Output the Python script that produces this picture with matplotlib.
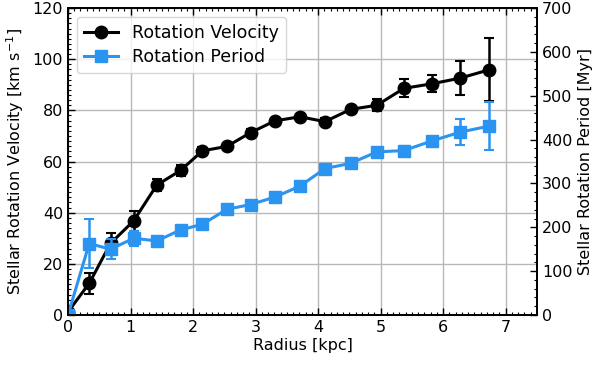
import matplotlib
matplotlib.use("Agg")
import matplotlib.pyplot as plt
from matplotlib.lines import Line2D
from matplotlib.ticker import MultipleLocator

# Radial profile data
radius = [0.0, 0.34, 0.68, 1.05, 1.42, 1.80, 2.15, 2.54, 2.92, 3.31, 3.71, 4.11, 4.52, 4.94, 5.37, 5.82, 6.27, 6.74]
velocity = [1.2, 12.4, 28.0, 36.8, 50.8, 56.5, 64.2, 65.9, 71.3, 75.9, 77.5, 75.6, 80.4, 82.0, 88.6, 90.4, 92.6, 95.9]
velocity_err = [0.5, 4.2, 4.0, 4.0, 2.5, 2.0, 1.5, 1.5, 1.5, 1.2, 1.2, 1.5, 1.5, 2.3, 3.5, 3.3, 6.6, 12.4]
period = [0.0, 163.0, 150.0, 175.0, 169.0, 194.0, 207.0, 241.0, 252.0, 269.0, 294.0, 334.0, 346.0, 372.0, 375.0, 397.0, 417.0, 431.0]
period_err = [0.0, 56.0, 23.0, 17.0, 6.0, 6.0, 5.0, 5.0, 5.0, 5.0, 5.0, 6.0, 6.0, 8.0, 10.0, 10.0, 30.0, 55.0]

plt.rcParams["font.family"] = ["DejaVu Sans"]
plt.rcParams["font.size"] = 11.5

fig = plt.figure(figsize=(6.0, 3.66), dpi=100)
ax = fig.add_axes([0.1133, 0.1393, 0.7817, 0.8387])
ax2 = ax.twinx()

black = "black"
blue = "#2b93f0"
style = dict(markersize=9, linewidth=2.2, elinewidth=1.8, capsize=3.5, capthick=1.5)

ax.errorbar(radius, velocity, yerr=velocity_err, color=black, marker="o", **style)
ax2.errorbar(radius, period, yerr=period_err, color=blue, marker="s", **style)

ax.set_xlim(0, 7.5)
ax.set_ylim(0, 120)
ax2.set_ylim(0, 700)

ax.xaxis.set_major_locator(MultipleLocator(1))
ax.xaxis.set_minor_locator(MultipleLocator(0.1))
ax.yaxis.set_major_locator(MultipleLocator(20))
ax.yaxis.set_minor_locator(MultipleLocator(2))
ax2.yaxis.set_major_locator(MultipleLocator(100))
ax2.yaxis.set_minor_locator(MultipleLocator(20))

ax.tick_params(which="both", direction="in", top=True, right=False)
ax.tick_params(which="major", length=5, width=1)
ax.tick_params(which="minor", length=2.5, width=0.8)
ax2.tick_params(which="both", direction="in")
ax2.tick_params(which="major", length=5, width=1)
ax2.tick_params(which="minor", length=2.5, width=0.8)

ax.grid(True, which="major", color="#b8b8b8", linewidth=1.0)
ax.set_axisbelow(True)

for a in (ax, ax2):
    for s in a.spines.values():
        s.set_linewidth(1.3)

ax.set_xlabel("Radius [kpc]", labelpad=2)
ax.set_ylabel("Stellar Rotation Velocity [km s$^{-1}$]", labelpad=5)
ax2.set_ylabel("Stellar Rotation Period [Myr]", labelpad=4)

handles = [
    Line2D([], [], color=black, marker="o", markersize=9, linewidth=2.2),
    Line2D([], [], color=blue, marker="s", markersize=9, linewidth=2.2),
]
ax2.legend(handles, ["Rotation Velocity", "Rotation Period"], loc="upper left",
           fontsize=12.5, framealpha=0.8, edgecolor="#cccccc",
           borderaxespad=0.5, handlelength=2.0, labelspacing=0.35)

fig.savefig("out.png", dpi=100)
